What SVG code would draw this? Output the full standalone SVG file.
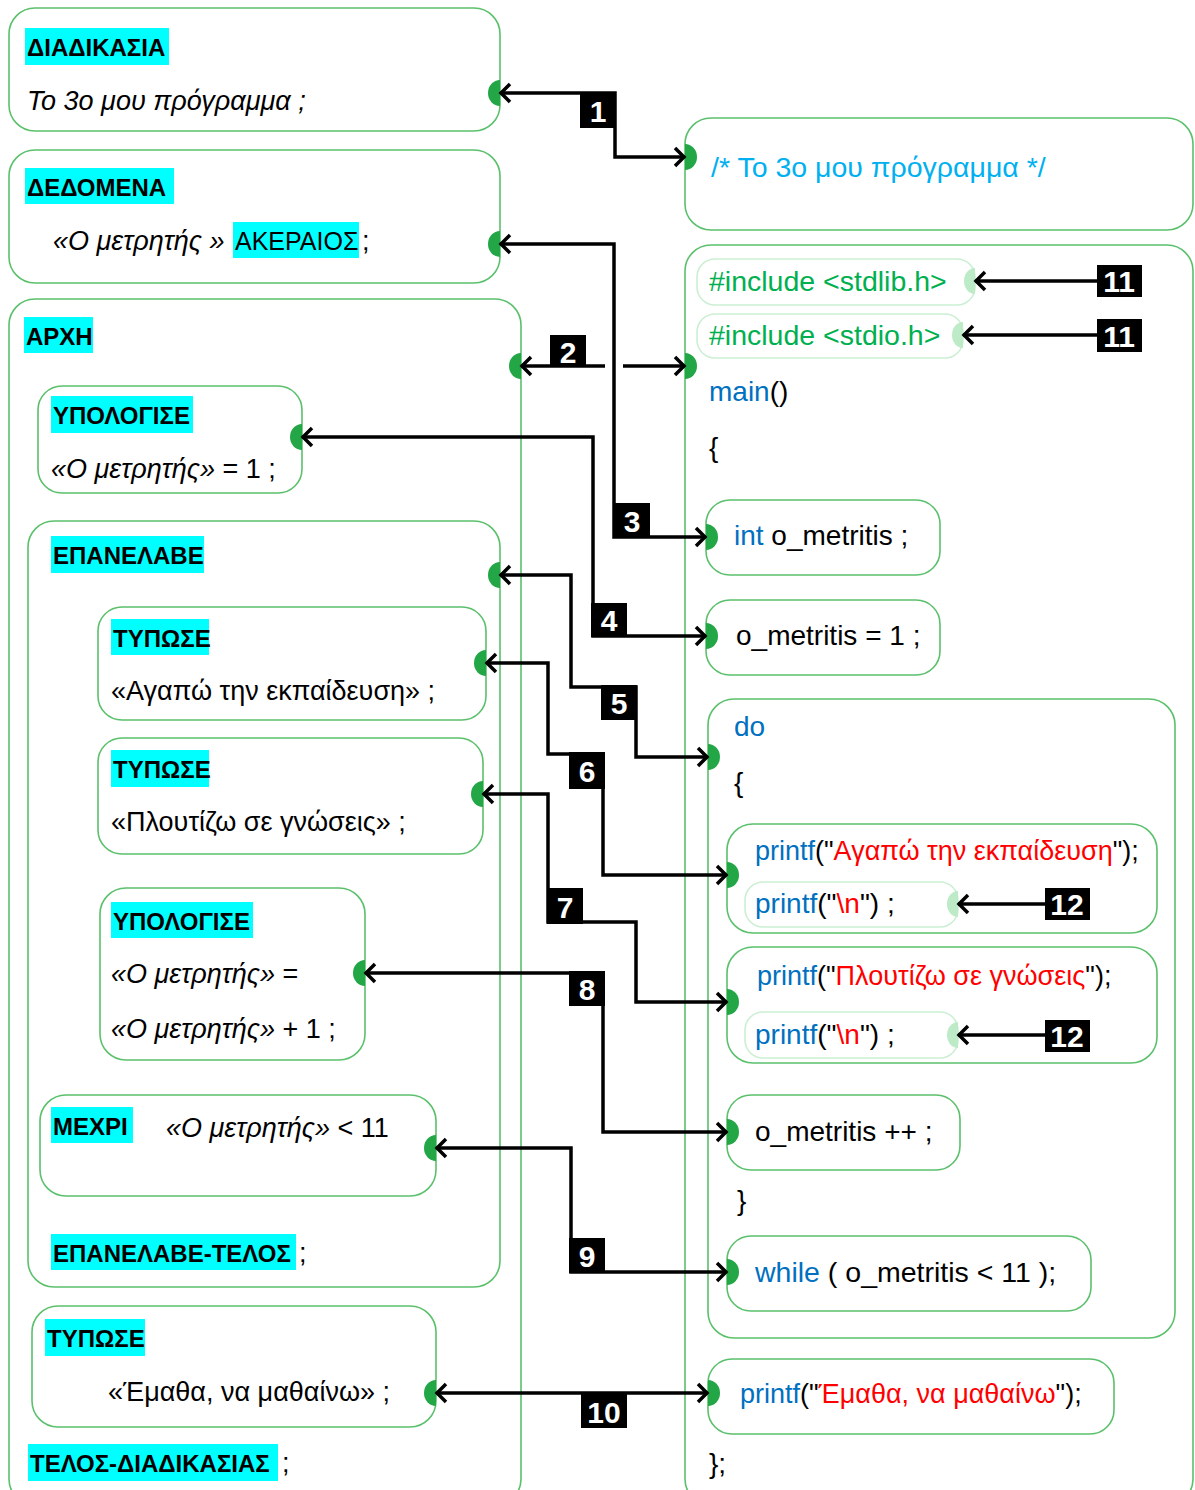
<svg xmlns="http://www.w3.org/2000/svg" width="1195" height="1490" viewBox="0 0 1195 1490">
  <defs>
    <style>
      .box{fill:none;stroke:#5BC06C;stroke-width:1.6}
      .lbox{fill:none;stroke:#CBEFD3;stroke-width:1.6}
      .hl{fill:#00FFFF}
      text{font-family:"Liberation Sans",Arial,sans-serif;font-size:27px;fill:#000}
      .h{font-weight:bold;font-size:24px}
      .r25{font-size:25px}
      .i{font-style:italic}
      .code{font-size:28px}
      .code27{font-size:27px}
      .big{font-size:28.5px}
      .kw{fill:#0070C0}
      .str{fill:#FF0000}
      .inc{fill:#00B050}
      .cmt{fill:#00B0F0}
      .port{fill:#22A646}
      .lport{fill:#BDEBC8}
      .wire{fill:none;stroke:#000;stroke-width:3.5}
      .tag{fill:#000}
      .tagt{fill:#fff;font-weight:bold;font-size:30px;text-anchor:middle}
    </style>
    <marker id="ah" viewBox="-13 -11 15 22" refX="0" refY="0" markerWidth="15" markerHeight="22" markerUnits="userSpaceOnUse" orient="auto-start-reverse">
      <path d="M-10,-9 L-1,0 L-10,9" fill="none" stroke="#000" stroke-width="3.5"/>
    </marker>
  </defs>
  <rect width="1195" height="1490" fill="#fff"/>

  <!-- pseudocode side -->
  <g id="n-diadikasia">
    <rect class="box" x="9" y="8" width="491" height="123" rx="26"/>
    <rect class="hl" x="25" y="28" width="144" height="37"/>
    <text class="h" x="27" y="56">ΔΙΑΔΙΚΑΣΙΑ</text>
    <text class="i" x="27" y="110">Το 3ο μου πρόγραμμα ;</text>
    <path class="port" d="M500,80 A12 13 0 0 0 500,106 Z"/>
  </g>
  <g id="n-dedomena">
    <rect class="box" x="9" y="150" width="491" height="133" rx="26"/>
    <rect class="hl" x="25" y="168" width="149" height="36"/>
    <text class="h" x="27" y="196">ΔΕΔΟΜΕΝΑ</text>
    <text class="i" x="53" y="250">«Ο μετρητής »</text>
    <rect class="hl" x="233" y="222" width="126" height="36"/>
    <text class="r25" x="235" y="250">ΑΚΕΡΑΙΟΣ</text>
    <text x="362" y="250">;</text>
    <path class="port" d="M500,231 A12 13 0 0 0 500,257 Z"/>
  </g>
  <g id="n-arxh">
    <rect class="box" x="9" y="299" width="512" height="1206" rx="26"/>
    <rect class="hl" x="24" y="317" width="69" height="36"/>
    <text class="h" x="26" y="345">ΑΡΧΗ</text>
    <rect class="hl" x="28" y="1444" width="250" height="37"/>
    <text class="h" x="30" y="1472">ΤΕΛΟΣ-ΔΙΑΔΙΚΑΣΙΑΣ</text>
    <text x="282" y="1472">;</text>
    <path class="port" d="M521,353 A12 13 0 0 0 521,379 Z"/>
  </g>
  <g id="n-ypologise1">
    <rect class="box" x="38" y="386" width="264" height="107" rx="24"/>
    <rect class="hl" x="51" y="396" width="142" height="37"/>
    <text class="h" x="53" y="424">ΥΠΟΛΟΓΙΣΕ</text>
    <text x="51" y="478"><tspan class="i">«Ο μετρητής»</tspan> = 1 ;</text>
    <path class="port" d="M302,424 A12 13 0 0 0 302,450 Z"/>
  </g>
  <g id="n-epanelabe">
    <rect class="box" x="28" y="521" width="472" height="766" rx="26"/>
    <rect class="hl" x="51" y="536" width="153" height="37"/>
    <text class="h" x="53" y="564">ΕΠΑΝΕΛΑΒΕ</text>
    <rect class="hl" x="51" y="1234" width="245" height="36"/>
    <text class="h" x="53" y="1262">ΕΠΑΝΕΛΑΒΕ-ΤΕΛΟΣ</text>
    <text x="299" y="1262">;</text>
    <path class="port" d="M500,562 A12 13 0 0 0 500,588 Z"/>
  </g>
  <g id="n-typose1">
    <rect class="box" x="98" y="607" width="388" height="113" rx="24"/>
    <rect class="hl" x="111" y="619" width="98" height="36"/>
    <text class="h" x="113" y="647">ΤΥΠΩΣΕ</text>
    <text x="111" y="700">«Αγαπώ την εκπαίδευση» ;</text>
    <path class="port" d="M486,650 A12 13 0 0 0 486,676 Z"/>
  </g>
  <g id="n-typose2">
    <rect class="box" x="98" y="738" width="385" height="116" rx="24"/>
    <rect class="hl" x="111" y="750" width="98" height="37"/>
    <text class="h" x="113" y="778">ΤΥΠΩΣΕ</text>
    <text x="111" y="831">«Πλουτίζω σε γνώσεις» ;</text>
    <path class="port" d="M483,781 A12 13 0 0 0 483,807 Z"/>
  </g>
  <g id="n-ypologise2">
    <rect class="box" x="100" y="888" width="265" height="172" rx="26"/>
    <rect class="hl" x="111" y="902" width="142" height="36"/>
    <text class="h" x="113" y="930">ΥΠΟΛΟΓΙΣΕ</text>
    <text x="111" y="983"><tspan class="i">«Ο μετρητής»</tspan> =</text>
    <text x="111" y="1038"><tspan class="i">«Ο μετρητής»</tspan> + 1 ;</text>
    <path class="port" d="M365,960 A12 13 0 0 0 365,986 Z"/>
  </g>
  <g id="n-mexri">
    <rect class="box" x="40" y="1095" width="396" height="101" rx="26"/>
    <rect class="hl" x="51" y="1107" width="82" height="36"/>
    <text class="h" x="53" y="1135">ΜΕΧΡΙ</text>
    <text x="166" y="1137"><tspan class="i">«Ο μετρητής»</tspan> &lt; 11</text>
    <path class="port" d="M436,1135 A12 13 0 0 0 436,1161 Z"/>
  </g>
  <g id="n-typose3">
    <rect class="box" x="32" y="1306" width="404" height="121" rx="26"/>
    <rect class="hl" x="45" y="1319" width="100" height="37"/>
    <text class="h" x="47" y="1347">ΤΥΠΩΣΕ</text>
    <text x="108" y="1401">«Έμαθα, να μαθαίνω» ;</text>
    <path class="port" d="M436,1380 A12 13 0 0 0 436,1406 Z"/>
  </g>

  <!-- C source side -->
  <g id="n-comment">
    <rect class="box" x="685" y="118" width="508" height="112" rx="26"/>
    <text class="big cmt" x="711" y="177">/* Το 3ο μου πρόγραμμα */</text>
    <path class="port" d="M685,144 A12 13 0 0 1 685,170 Z"/>
  </g>
  <g id="n-main">
    <rect class="box" x="685" y="245" width="508" height="1260" rx="26"/>
    <text class="code kw" x="709" y="401">main<tspan fill="#000">()</tspan></text>
    <text class="code" x="709" y="457">{</text>
    <text class="code" x="709" y="1473">};</text>
    <path class="port" d="M685,353 A12 13 0 0 1 685,379 Z"/>
  </g>
  <g id="n-inc1">
    <rect class="lbox" x="697" y="259" width="278" height="46" rx="18"/>
    <text class="big inc" x="709" y="291">#include &lt;stdlib.h&gt;</text>
    <path class="lport" d="M975,268 A11 13 0 0 0 975,294 Z"/>
  </g>
  <g id="n-inc2">
    <rect class="lbox" x="697" y="314" width="266" height="44" rx="18"/>
    <text class="big inc" x="709" y="345">#include &lt;stdio.h&gt;</text>
    <path class="lport" d="M963,322 A11 13 0 0 0 963,348 Z"/>
  </g>
  <g id="n-int">
    <rect class="box" x="706" y="500" width="234" height="75" rx="24"/>
    <text class="code" x="734" y="545"><tspan class="kw">int</tspan> o_metritis ;</text>
    <path class="port" d="M706,524 A12 13 0 0 1 706,550 Z"/>
  </g>
  <g id="n-assign">
    <rect class="box" x="706" y="600" width="234" height="75" rx="24"/>
    <text class="code" x="736" y="645">o_metritis = 1 ;</text>
    <path class="port" d="M706,623 A12 13 0 0 1 706,649 Z"/>
  </g>
  <g id="n-do">
    <rect class="box" x="708" y="699" width="467" height="639" rx="26"/>
    <text class="code kw" x="734" y="736">do</text>
    <text class="code" x="734" y="792">{</text>
    <text class="code" x="737" y="1210">}</text>
    <path class="port" d="M708,744 A12 13 0 0 1 708,770 Z"/>
  </g>
  <g id="n-printf1">
    <rect class="box" x="727" y="824" width="430" height="109" rx="26"/>
    <text class="code27" x="755" y="860"><tspan class="kw">printf</tspan>("<tspan class="str">Αγαπώ την εκπαίδευση</tspan>");</text>
    <path class="port" d="M727,862 A12 13 0 0 1 727,888 Z"/>
  </g>
  <g id="n-nl1">
    <rect class="lbox" x="745" y="882" width="213" height="45" rx="18"/>
    <text class="code" x="755" y="913"><tspan class="kw">printf</tspan>("<tspan class="str">\n</tspan>") ;</text>
    <path class="lport" d="M958,891 A11 13 0 0 0 958,917 Z"/>
  </g>
  <g id="n-printf2">
    <rect class="box" x="727" y="947" width="430" height="116" rx="26"/>
    <text class="code27" x="757" y="985"><tspan class="kw">printf</tspan>("<tspan class="str">Πλουτίζω σε γνώσεις</tspan>");</text>
    <path class="port" d="M727,989 A12 13 0 0 1 727,1015 Z"/>
  </g>
  <g id="n-nl2">
    <rect class="lbox" x="745" y="1012" width="213" height="46" rx="18"/>
    <text class="code" x="755" y="1044"><tspan class="kw">printf</tspan>("<tspan class="str">\n</tspan>") ;</text>
    <path class="lport" d="M958,1022 A11 13 0 0 0 958,1048 Z"/>
  </g>
  <g id="n-incr">
    <rect class="box" x="727" y="1095" width="233" height="75" rx="24"/>
    <text class="code" x="755" y="1141">o_metritis ++ ;</text>
    <path class="port" d="M727,1119 A12 13 0 0 1 727,1145 Z"/>
  </g>
  <g id="n-while">
    <rect class="box" x="727" y="1236" width="364" height="75" rx="24"/>
    <text class="big" x="755" y="1282"><tspan class="kw">while</tspan> ( o_metritis &lt; 11 );</text>
    <path class="port" d="M727,1259 A12 13 0 0 1 727,1285 Z"/>
  </g>
  <g id="n-printf3">
    <rect class="box" x="708" y="1359" width="406" height="75" rx="24"/>
    <text class="code27" x="740" y="1403"><tspan class="kw">printf</tspan>("<tspan class="str">Έμαθα, να μαθαίνω</tspan>");</text>
    <path class="port" d="M708,1380 A12 13 0 0 1 708,1406 Z"/>
  </g>

  <!-- numbered links between pseudocode and C -->
  <g id="connectors">
    <polyline class="wire" points="500,93 615,93 615,157 685,157" marker-start="url(#ah)" marker-end="url(#ah)"/>
    <polyline class="wire" points="521,366 605,366" marker-start="url(#ah)"/>
    <polyline class="wire" points="623,366 685,366" marker-end="url(#ah)"/>
    <polyline class="wire" points="500,244 614,244 614,537 706,537" marker-start="url(#ah)" marker-end="url(#ah)"/>
    <polyline class="wire" points="302,437 593,437 593,636 706,636" marker-start="url(#ah)" marker-end="url(#ah)"/>
    <polyline class="wire" points="500,575 571,575 571,687 636,687 636,757 708,757" marker-start="url(#ah)" marker-end="url(#ah)"/>
    <polyline class="wire" points="486,663 548,663 548,754 603,754 603,875 727,875" marker-start="url(#ah)" marker-end="url(#ah)"/>
    <polyline class="wire" points="483,794 548,794 548,922 636,922 636,1002 727,1002" marker-start="url(#ah)" marker-end="url(#ah)"/>
    <polyline class="wire" points="365,973 603,973 603,1132 727,1132" marker-start="url(#ah)" marker-end="url(#ah)"/>
    <polyline class="wire" points="436,1148 571,1148 571,1272 727,1272" marker-start="url(#ah)" marker-end="url(#ah)"/>
    <polyline class="wire" points="436,1393 708,1393" marker-start="url(#ah)" marker-end="url(#ah)"/>
    <polyline class="wire" points="1097,281 975,281" marker-end="url(#ah)"/>
    <polyline class="wire" points="1097,335 963,335" marker-end="url(#ah)"/>
    <polyline class="wire" points="1045,904 958,904" marker-end="url(#ah)"/>
    <polyline class="wire" points="1045,1035 958,1035" marker-end="url(#ah)"/>

    <rect class="tag" x="580" y="92" width="36" height="36"/><text class="tagt" x="598" y="122">1</text>
    <rect class="tag" x="550" y="335" width="36" height="32"/><text class="tagt" x="568" y="363">2</text>
    <rect class="tag" x="614" y="503" width="36" height="35"/><text class="tagt" x="632" y="532">3</text>
    <rect class="tag" x="591" y="603" width="36" height="34"/><text class="tagt" x="609" y="631">4</text>
    <rect class="tag" x="601" y="685" width="36" height="35"/><text class="tagt" x="619" y="714">5</text>
    <rect class="tag" x="569" y="752" width="36" height="37"/><text class="tagt" x="587" y="782">6</text>
    <rect class="tag" x="547" y="888" width="36" height="36"/><text class="tagt" x="565" y="918">7</text>
    <rect class="tag" x="569" y="971" width="36" height="35"/><text class="tagt" x="587" y="1000">8</text>
    <rect class="tag" x="569" y="1238" width="36" height="35"/><text class="tagt" x="587" y="1267">9</text>
    <rect class="tag" x="581" y="1394" width="46" height="34"/><text class="tagt" x="604" y="1423">10</text>
    <rect class="tag" x="1097" y="265" width="45" height="32"/><text class="tagt" x="1119" y="292">11</text>
    <rect class="tag" x="1097" y="319" width="45" height="33"/><text class="tagt" x="1119" y="347">11</text>
    <rect class="tag" x="1045" y="888" width="45" height="32"/><text class="tagt" x="1067" y="915">12</text>
    <rect class="tag" x="1045" y="1020" width="45" height="32"/><text class="tagt" x="1067" y="1047">12</text>
  </g>
</svg>
